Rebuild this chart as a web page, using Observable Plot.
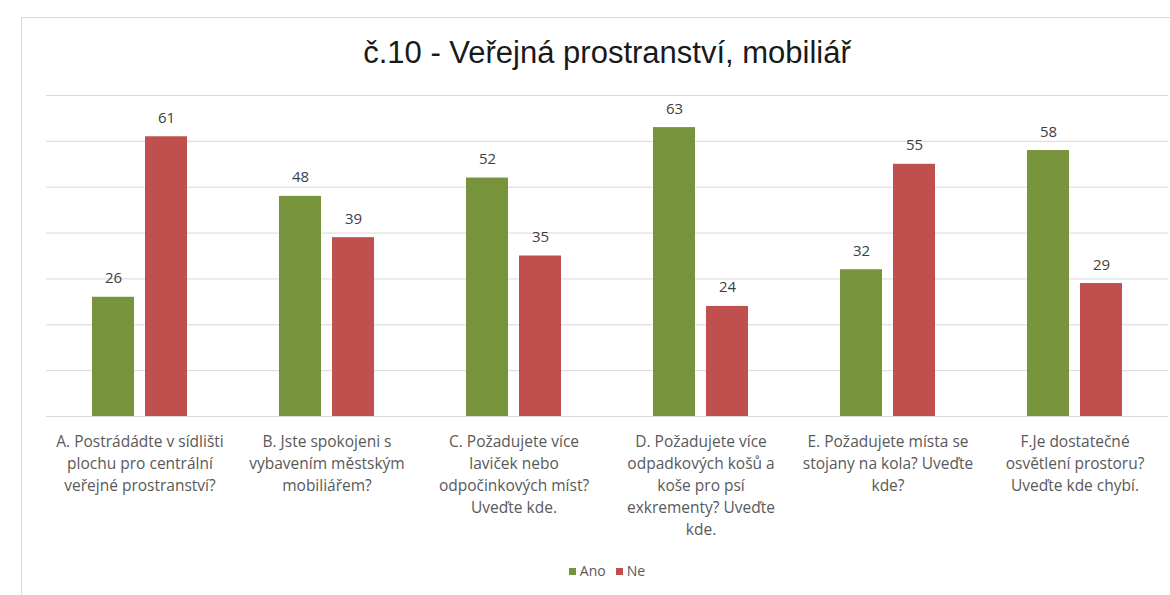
<!DOCTYPE html>
<html>
<head>
<meta charset="utf-8">
<script src="https://cdn.jsdelivr.net/npm/d3@7"></script>
<script src="https://cdn.jsdelivr.net/npm/@observablehq/plot@0.6"></script>
<style>
  html, body { margin: 0; padding: 0; background: #fff; width: 1170px; height: 595px; overflow: hidden; }
  #card { position: absolute; left: 21px; top: 17px; width: 1170px; height: 600px;
          border-left: 1px solid #d9d9d9; border-top: 1px solid #d9d9d9; background: #fff; }
  #title { box-sizing: border-box; height: 62px; padding: 17px 0 0 22px; width: 1148px; text-align: center;
           font-family: "Liberation Sans", Arial, sans-serif; font-size: 31px; line-height: 36px; color: #1a1a1a;
           white-space: nowrap; }
  #chart svg { display: block; }
  #legend { box-sizing: border-box; width: 1148px; padding-left: 22px; height: 42px; line-height: 42px; text-align: center;
            font-family: "Open Sans", sans-serif; font-size: 14px; color: #595959; }
  .sw { display: inline-block; width: 7px; height: 7px; margin-right: 4px; vertical-align: 1px; }
  .item { margin: 0 5px; }
</style>
</head>
<body>
<div id="card">
  <div id="title"></div>
  <div id="chart"></div>
  <div id="legend"></div>
</div>
<script>
const titleText = "č.10 - Veřejná prostranství, mobiliář";
const categories = ["A", "B", "C", "D", "E", "F"];
const categoryLabels = [
  "A. Postrádádte v sídlišti\nplochu pro centrální\nveřejné prostranství?",
  "B. Jste spokojeni s\nvybavením městským\nmobiliářem?",
  "C. Požadujete více\nlaviček nebo\nodpočinkových míst?\nUveďte kde.",
  "D. Požadujete více\nodpadkových košů a\nkoše pro psí\nexkrementy? Uveďte\nkde.",
  "E. Požadujete místa se\nstojany na kola? Uveďte\nkde?",
  "F.Je dostatečné\nosvětlení prostoru?\nUveďte kde chybí."
];
const series = ["Ano", "Ne"];
const anoValues = [26, 48, 52, 63, 32, 58];
const neValues = [61, 39, 35, 24, 55, 29];
const seriesColors = ["#77933C", "#C0504D"];
const yTicks = [0, 10, 20, 30, 40, 50, 60, 70];

const data = [];
categories.forEach((c, i) => {
  data.push({cat: c, series: "Ano", value: anoValues[i]});
  data.push({cat: c, series: "Ne", value: neValues[i]});
});
const labelOf = new Map(categories.map((c, i) => [c, categoryLabels[i]]));

document.getElementById("title").textContent = titleText;

const chart = Plot.plot({
  width: 1148,
  height: 470,
  marginTop: 15,
  marginBottom: 134,
  marginLeft: 22,
  marginRight: 0,
  style: {fontFamily: "'Open Sans', sans-serif", background: "transparent"},
  fx: {domain: categories, paddingInner: 0, paddingOuter: 0, label: null},
  x: {domain: series, paddingInner: 0.2, paddingOuter: 0.84, axis: null},
  y: {domain: [0, 70], axis: null},
  color: {domain: series, range: seriesColors},
  marks: [
    Plot.ruleY(yTicks, {stroke: "#d9d9d9", strokeWidth: 1}),
    Plot.barY(data, {fx: "cat", x: "series", y: "value", fill: "series"}),
    Plot.text(data, {fx: "cat", x: "series", y: "value", text: d => String(d.value),
                     dy: -14, lineAnchor: "bottom", fontSize: 15, fill: "#404040"}),
    Plot.axisFx({anchor: "bottom", tickSize: 0, tickPadding: 15, fontSize: 15.5, lineHeight: 1.42,
                 color: "#595959", label: null, tickFormat: d => labelOf.get(d)})
  ]
});
document.getElementById("chart").appendChild(chart);

const legend = document.getElementById("legend");
series.forEach((s, i) => {
  const span = document.createElement("span");
  span.className = "item";
  const sw = document.createElement("span");
  sw.className = "sw";
  sw.style.background = seriesColors[i];
  span.appendChild(sw);
  span.appendChild(document.createTextNode(s));
  legend.appendChild(span);
});
</script>
</body>
</html>
